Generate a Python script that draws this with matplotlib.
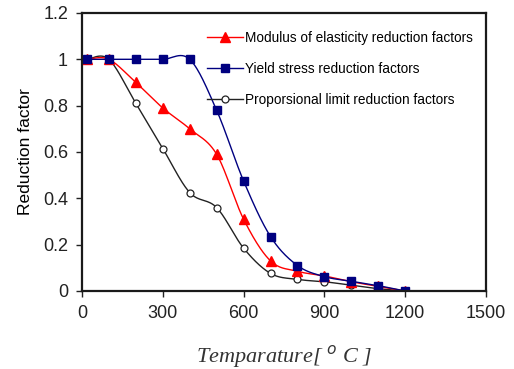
import matplotlib
matplotlib.use('Agg')
import matplotlib.pyplot as plt
from matplotlib.lines import Line2D
import numpy as np

plt.rcParams['font.family'] = ['Liberation Sans', 'DejaVu Sans']

temp = [20, 100, 200, 300, 400, 500, 600, 700, 800, 900, 1000, 1100, 1200]
modulus = [1.0, 1.0, 0.90, 0.79, 0.70, 0.59, 0.31, 0.13, 0.085, 0.065, 0.04, 0.02, 0.0]
yield_stress = [1.0, 1.0, 1.0, 1.0, 1.0, 0.78, 0.475, 0.235, 0.11, 0.062, 0.042, 0.023, 0.0]
proportional = [1.0, 1.0, 0.81, 0.615, 0.425, 0.36, 0.185, 0.076, 0.05, 0.04, 0.025, 0.01, 0.0]

labels = ['Modulus of elasticity reduction factors',
          'Yield stress reduction factors',
          'Proporsional limit reduction factors']


def smooth(x, y, n=30):
    # spreadsheet-style smoothed line: cubic bezier with catmull-rom control points
    x = np.asarray(x, float)
    y = np.asarray(y, float)
    px = np.concatenate([[x[0]], x, [x[-1]]])
    py = np.concatenate([[y[0]], y, [y[-1]]])
    t = np.linspace(0, 1, n)[:, None]
    xs, ys = [], []
    for i in range(1, len(px) - 2):
        p0 = np.array([px[i], py[i]])
        p3 = np.array([px[i + 1], py[i + 1]])
        c1 = p0 + (np.array([px[i + 1], py[i + 1]]) - np.array([px[i - 1], py[i - 1]])) / 6
        c2 = p3 - (np.array([px[i + 2], py[i + 2]]) - p0) / 6
        b = ((1 - t) ** 3) * p0 + 3 * ((1 - t) ** 2) * t * c1 + 3 * (1 - t) * t ** 2 * c2 + t ** 3 * p3
        xs.extend(b[:, 0])
        ys.extend(b[:, 1])
    return xs, ys


fig = plt.figure(figsize=(5.14, 3.69), dpi=100)
ax = fig.add_axes([0.1595, 0.2114, 0.7860, 0.7534])

tri = dict(marker='^', markersize=6.5, markerfacecolor='#ff0000', markeredgecolor='#ff0000')
sq = dict(marker='s', markersize=5.5, markerfacecolor='#000080', markeredgecolor='#000080')
circ = dict(marker='o', markersize=5, markerfacecolor='white', markeredgecolor='#222222', markeredgewidth=0.9)

series = [
    (proportional, '#222222', circ),
    (modulus, '#ff0000', tri),
    (yield_stress, '#000080', sq),
]
for vals, col, mk in series:
    sx, sy = smooth(temp, vals)
    ax.plot(sx, sy, color=col, lw=1.0)
    ax.plot(temp, vals, linestyle='none', **mk)

handles = [
    Line2D([], [], color='#ff0000', lw=1.0, **tri),
    Line2D([], [], color='#000080', lw=1.0, **sq),
    Line2D([], [], color='#222222', lw=1.0, **circ),
]
ax.legend(handles, labels, loc='upper left', bbox_to_anchor=(0.31, 0.937), frameon=False,
          fontsize=9.8, handlelength=2.6, handletextpad=0.2, labelspacing=1.25,
          borderpad=0, borderaxespad=0)

ax.set_xlim(0, 1500)
ax.set_ylim(0, 1.2)
ax.set_xticks([0, 300, 600, 900, 1200, 1500])
ax.set_yticks([0, 0.2, 0.4, 0.6, 0.8, 1.0, 1.2])
ax.set_yticklabels(['0', '0.2', '0.4', '0.6', '0.8', '1', '1.2'])
ax.tick_params(direction='out', length=4, width=1, labelsize=13, colors='#222222', pad=6)
for s in ax.spines.values():
    s.set_linewidth(1.6)
    s.set_color('#1a1a1a')

ax.set_ylabel('Reduction factor', fontsize=12.5, labelpad=7)
ax.set_xlabel('Temparature[ $^o$ C ]', fontsize=16, style='italic',
              family=['Liberation Serif', 'DejaVu Serif'], labelpad=15, color='#333333')

fig.savefig('out.png', dpi=100)
